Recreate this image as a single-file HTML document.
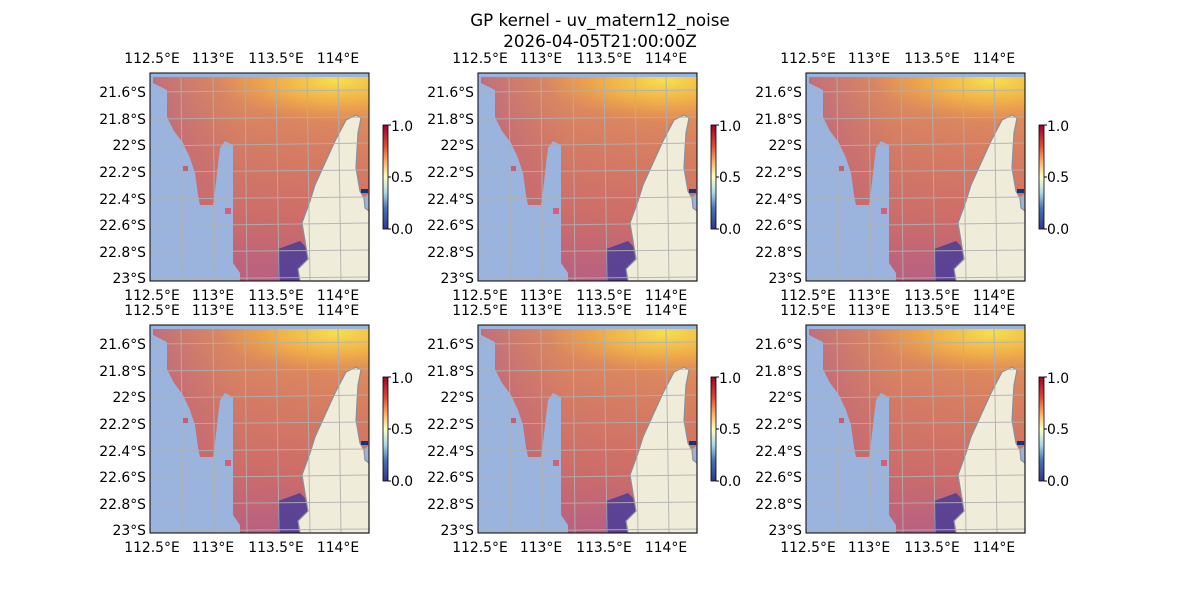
<!DOCTYPE html>
<html><head><meta charset="utf-8"><style>
html,body{margin:0;padding:0;background:#fff;}
svg text{font-family:"DejaVu Sans","Liberation Sans",sans-serif;fill:#000;}
</style></head><body>
<svg width="1200" height="600" viewBox="0 0 1200 600" xmlns="http://www.w3.org/2000/svg">
<defs>
<linearGradient id="dv" x1="0" y1="0" x2="0" y2="1">
<stop offset="0" stop-color="#e69a55"/>
<stop offset="0.35" stop-color="#d88060"/>
<stop offset="0.7" stop-color="#cf6e66"/>
<stop offset="1" stop-color="#b65f85"/>
</linearGradient>
<linearGradient id="dh" x1="0" y1="0" x2="1" y2="0">
<stop offset="0" stop-color="#b4608a" stop-opacity="0.75"/>
<stop offset="0.4" stop-color="#c0647a" stop-opacity="0.2"/>
<stop offset="1" stop-color="#c0647a" stop-opacity="0"/>
</linearGradient>
<radialGradient id="yl" cx="0.85" cy="0.05" r="0.55">
<stop offset="0" stop-color="#f5e050"/>
<stop offset="0.5" stop-color="#f4b845" stop-opacity="0.8"/>
<stop offset="1" stop-color="#f0a040" stop-opacity="0"/>
</radialGradient>
<linearGradient id="cb" x1="0" y1="0" x2="0" y2="1">
<stop offset="0" stop-color="#a50026"/>
<stop offset="0.2" stop-color="#e34a33"/>
<stop offset="0.35" stop-color="#fdae61"/>
<stop offset="0.5" stop-color="#ffffbf"/>
<stop offset="0.65" stop-color="#abd9e9"/>
<stop offset="0.8" stop-color="#4575b4"/>
<stop offset="1" stop-color="#313695"/>
</linearGradient>
<g id="panel">
<rect x="0" y="0" width="219" height="208" fill="#9ab4de"/>
<polygon points="3,4 219,4 219,120 200,140 170,208 90,208 90,200 83,190 83,72 75,68 70,75 67,100 65,118 63,132 50,132 48,122 45,100 40,85 33,70 24,58 17,44 17,17 3,10" fill="url(#dv)"/>
<polygon points="3,4 219,4 219,120 200,140 170,208 90,208 90,200 83,190 83,72 75,68 70,75 67,100 65,118 63,132 50,132 48,122 45,100 40,85 33,70 24,58 17,44 17,17 3,10" fill="url(#dh)"/>
<polygon points="3,4 219,4 219,60 180,75 130,80 90,70 60,30 20,10" fill="url(#yl)"/>
<polygon points="128,176 150,168 160,178 158,208 128,208" fill="#4b3d98" opacity="0.85"/>
<rect x="155" y="190" width="10" height="14" fill="#0c2040"/>
<rect x="75" y="135" width="6" height="6" fill="#d2607a"/>
<rect x="33" y="93" width="5" height="5" fill="#c2607c"/>
<polygon points="150,208 148,196 158,186 152,150 160,128 165,112 175,90 185,68 196,47 206,42 211,45 208,60 206,95 210,118 214,125 215,135 219,138 219,208" fill="#efedda" stroke="#8a8f99" stroke-width="1.2"/>
<rect x="211" y="116" width="7" height="4" fill="#1a3270"/>
<g stroke="#b0b0b0" stroke-width="1" fill="none" opacity="0.9">
<line x1="0" y1="19" x2="219" y2="17"/><line x1="0" y1="46" x2="219" y2="44"/>
<line x1="0" y1="73" x2="219" y2="70"/><line x1="0" y1="99" x2="219" y2="97"/>
<line x1="0" y1="126" x2="219" y2="124"/><line x1="0" y1="153" x2="219" y2="150"/>
<line x1="0" y1="179" x2="219" y2="177"/><line x1="0" y1="206" x2="219" y2="204"/>
<line x1="31" y1="0" x2="33" y2="208"/><line x1="63" y1="0" x2="65" y2="208"/>
<line x1="95" y1="0" x2="97" y2="208"/><line x1="126" y1="0" x2="129" y2="208"/>
<line x1="157" y1="0" x2="160" y2="208"/><line x1="188" y1="0" x2="191" y2="208"/>
</g>
<rect x="0" y="0" width="219" height="208" fill="none" stroke="#000" stroke-width="1"/>
</g>
<g id="cbar">
<rect x="0" y="0" width="5" height="104" fill="url(#cb)" stroke="#000" stroke-width="0.8"/>
<line x1="5" y1="0" x2="8" y2="0" stroke="#000"/><line x1="5" y1="52" x2="8" y2="52" stroke="#000"/><line x1="5" y1="104" x2="8" y2="104" stroke="#000"/>
</g>
</defs>
<text x="600" y="26" font-size="16.7" text-anchor="middle">GP kernel - uv_matern12_noise</text>
<text x="600" y="47" font-size="16.7" text-anchor="middle">2026-04-05T21:00:00Z</text>

<use href="#panel" x="150" y="73"/><use href="#panel" x="478" y="73"/><use href="#panel" x="806" y="73"/>
<use href="#panel" x="150" y="325"/><use href="#panel" x="478" y="325"/><use href="#panel" x="806" y="325"/>
<use href="#cbar" x="383" y="125"/><use href="#cbar" x="711" y="125"/><use href="#cbar" x="1039" y="125"/>
<use href="#cbar" x="383" y="377"/><use href="#cbar" x="711" y="377"/><use href="#cbar" x="1039" y="377"/>

<g font-size="13.9">
<g id="lab1">
<text x="152" y="63" text-anchor="middle">112.5°E</text><text x="213" y="63" text-anchor="middle">113°E</text><text x="276" y="63" text-anchor="middle">113.5°E</text><text x="338" y="63" text-anchor="middle">114°E</text>
<text x="152" y="300" text-anchor="middle">112.5°E</text><text x="213" y="300" text-anchor="middle">113°E</text><text x="276" y="300" text-anchor="middle">113.5°E</text><text x="338" y="300" text-anchor="middle">114°E</text>
<text x="146" y="97" text-anchor="end">21.6°S</text><text x="146" y="124" text-anchor="end">21.8°S</text><text x="146" y="150" text-anchor="end">22°S</text><text x="146" y="177" text-anchor="end">22.2°S</text><text x="146" y="204" text-anchor="end">22.4°S</text><text x="146" y="230" text-anchor="end">22.6°S</text><text x="146" y="257" text-anchor="end">22.8°S</text><text x="146" y="283" text-anchor="end">23°S</text>
<text x="391" y="131">1.0</text><text x="391" y="182">0.5</text><text x="391" y="234">0.0</text>
</g>
<use href="#lab1" x="328" y="0"/><use href="#lab1" x="656" y="0"/>
<use href="#lab1" x="0" y="252"/><use href="#lab1" x="328" y="252"/><use href="#lab1" x="656" y="252"/>
</g>
</svg>
</body></html>
